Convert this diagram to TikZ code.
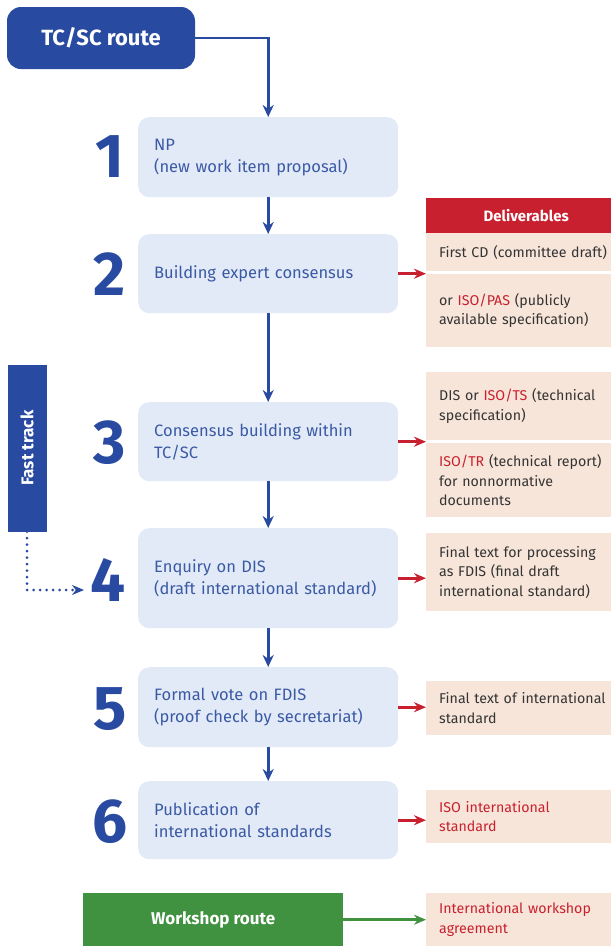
\documentclass[tikz,border=0pt]{standalone}
\usepackage{fontspec}
\setmainfont{Fira Sans}
\usetikzlibrary{arrows.meta}
\definecolor{isoblue}{RGB}{40,74,160}
\definecolor{steptext}{RGB}{58,90,165}
\definecolor{stepfill}{RGB}{227,234,247}
\definecolor{isored}{RGB}{200,32,46}
\definecolor{delfill}{RGB}{247,229,217}
\definecolor{deltext}{RGB}{52,52,52}
\definecolor{wsgreen}{RGB}{64,145,64}
\newcommand{\redtxt}[1]{\textcolor{isored}{#1}}
\begin{document}
\begin{tikzpicture}[x=1pt,y=-1pt,
  stepbox/.style={anchor=north west,fill=stepfill,rounded corners=11pt,text=steptext,
    font=\fontsize{16.5}{22}\selectfont,text width=228pt,inner xsep=16pt,align=left},
  stepnum/.style={text=isoblue,inner sep=0pt,font=\fontsize{62}{62}\selectfont\bfseries},
  delbox/.style={anchor=north west,fill=delfill,text=deltext,
    font=\fontsize{14.2}{19.5}\selectfont,text width=174pt,inner xsep=13pt,align=left},
  bluearrow/.style={isoblue,line width=2.8pt,-{Stealth[length=12pt,width=11pt]}},
  redarrow/.style={isored,line width=2.6pt,-{Stealth[length=12pt,width=10pt]}},
  greenarrow/.style={wsgreen,line width=2.6pt,-{Stealth[length=12pt,width=10pt]}}]
\useasboundingbox (0,0) rectangle (611,946);

\node[fill=isoblue,rounded corners=14pt,minimum width=188pt,minimum height=62pt,text=white,
  font=\fontsize{22}{26}\selectfont\bfseries] (tc) at (101,38) {TC/SC route};

\node[stepbox,minimum height=80pt] (s1) at (138,117) {NP\\(new work item proposal)};
\node[stepbox,minimum height=79pt] (s2) at (138,234) {Building expert consensus};
\node[stepbox,minimum height=79pt] (s3) at (138,402) {Consensus building within\\TC/SC};
\node[stepbox,minimum height=100pt] (s4) at (138,528) {Enquiry on DIS\\(draft international standard)};
\node[stepbox,minimum height=80pt] (s5) at (138,667) {Formal vote on FDIS\\(proof check by secretariat)};
\node[stepbox,minimum height=78pt] (s6) at (138,781) {Publication of\\international standards};

\node[stepnum] (n1) at (110,157) {1};
\node[stepnum] (n2) at (110,274) {2};
\node[stepnum] (n3) at (110,443) {3};
\node[stepnum] (n4) at (108,580) {4};
\node[stepnum] (n5) at (110,709) {5};
\node[stepnum] (n6) at (110,822) {6};

\draw[bluearrow] (tc.east) -| (s1.north);
\draw[bluearrow] (s1) -- (s2);
\draw[bluearrow] (s2) -- (s3);
\draw[bluearrow] (s3) -- (s4);
\draw[bluearrow] (s4) -- (s5);
\draw[bluearrow] (s5) -- (s6);

\node[anchor=north west,fill=isored,minimum width=200pt,minimum height=35pt,text=white,
  font=\fontsize{15}{18}\selectfont\bfseries] (dh) at (426,198) {Deliverables};
\node[delbox,minimum height=38pt] (d2a) at (426,233) {First CD (committee draft)};
\node[delbox,minimum height=73pt] (d2b) at (426,274) {or \redtxt{ISO/PAS} (publicly\\available specification)};
\node[delbox,minimum height=68pt] (d3a) at (426,372) {DIS or \redtxt{ISO/TS} (technical\\specification)};
\node[delbox,minimum height=74pt] (d3b) at (426,443) {\redtxt{ISO/TR} (technical report)\\for nonnormative\\documents};
\node[delbox,minimum height=78pt] (d4) at (426,533) {Final text for processing\\as FDIS (final draft\\international standard)};
\node[delbox,minimum height=54pt] (d5) at (426,681) {Final text of international\\standard};
\node[delbox,minimum height=53pt,text=isored] (d6) at (426,790) {ISO international\\standard};
\node[delbox,minimum height=53pt,text=isored] (dw) at (426,893) {International workshop\\agreement};

\draw[redarrow] (s2.east) -- (s2.east -| d2a.west);
\draw[redarrow] (s3.east) -- (s3.east -| d3a.west);
\draw[redarrow] (s4.east) -- (s4.east -| d4.west);
\draw[redarrow] (s5.east) -- (s5.east -| d5.west);
\draw[redarrow] (s6.east) -- (s6.east -| d6.west);

\node[fill=isoblue,rotate=90,minimum width=167pt,minimum height=39pt,text=white,
  font=\fontsize{17}{20}\selectfont\bfseries] (ft) at (27,448) {Fast track};
\coordinate (ftend) at (84,590);
\draw[isoblue,line width=3pt,line cap=round,dash pattern=on 0pt off 6.5pt,
  -{Stealth[length=12pt,width=10pt]}] (ft.west) |- (ftend);

\node[anchor=north west,fill=wsgreen,minimum width=260pt,minimum height=53pt,text=white,
  font=\fontsize{17}{20}\selectfont\bfseries] (ws) at (83,893) {Workshop route};
\draw[greenarrow] (ws.east) -- (ws.east -| dw.west);
\end{tikzpicture}
\end{document}
